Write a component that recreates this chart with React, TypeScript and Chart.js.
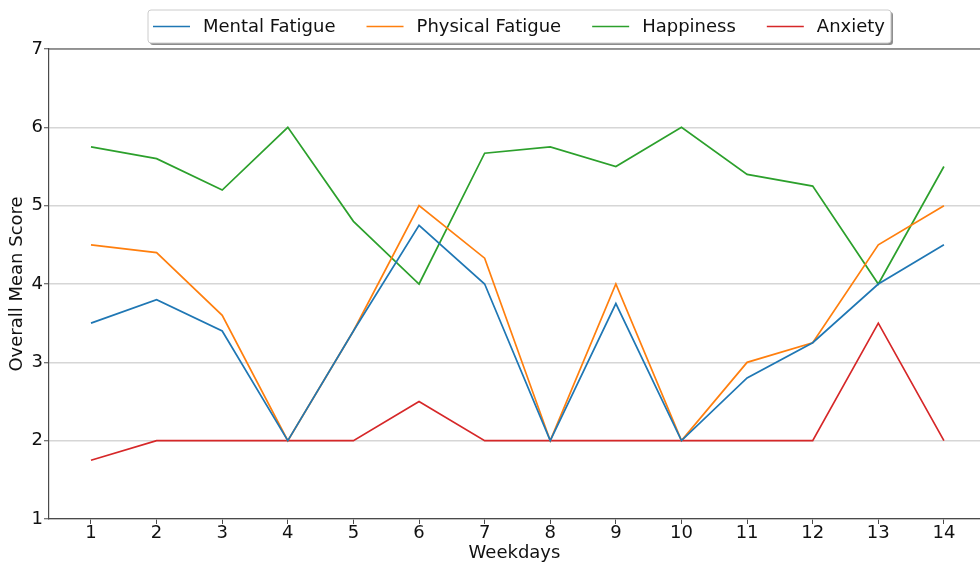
import { useEffect, useRef } from "react";
import { Chart, registerables } from "chart.js";

Chart.register(...registerables);

const FONT = "'DejaVu Sans', 'Liberation Sans', sans-serif";

// Days of the two-week period
const days = [1, 2, 3, 4, 5, 6, 7, 8, 9, 10, 11, 12, 13, 14];

// Overall mean scores per day
const mentalFatigue = [3.5, 3.8, 3.4, 2.0, 3.4, 4.75, 4.0, 2.0, 3.75, 2.0, 2.8, 3.25, 4.0, 4.5];
const physicalFatigue = [4.5, 4.4, 3.6, 2.0, 3.4, 5.0, 4.33, 2.0, 4.0, 2.0, 3.0, 3.25, 4.5, 5.0];
const happiness = [5.75, 5.6, 5.2, 6.0, 4.8, 4.0, 5.67, 5.75, 5.5, 6.0, 5.4, 5.25, 4.0, 5.5];
const anxiety = [1.75, 2.0, 2.0, 2.0, 2.0, 2.5, 2.0, 2.0, 2.0, 2.0, 2.0, 2.0, 3.5, 2.0];

const seriesNames = ["Mental Fatigue", "Physical Fatigue", "Happiness", "Anxiety"];
const seriesColors = ["#1f77b4", "#ff7f0e", "#2ca02c", "#d62728"];

const yTicks = [1, 2, 3, 4, 5, 6, 7];

const SPINE = "#4a4a4a";
const FONT_SIZE = 18;

function roundRect(ctx: CanvasRenderingContext2D, x: number, y: number, w: number, h: number, r: number) {
  ctx.beginPath();
  ctx.moveTo(x + r, y);
  ctx.lineTo(x + w - r, y);
  ctx.quadraticCurveTo(x + w, y, x + w, y + r);
  ctx.lineTo(x + w, y + h - r);
  ctx.quadraticCurveTo(x + w, y + h, x + w - r, y + h);
  ctx.lineTo(x + r, y + h);
  ctx.quadraticCurveTo(x, y + h, x, y + h - r);
  ctx.lineTo(x, y + r);
  ctx.quadraticCurveTo(x, y, x + r, y);
  ctx.closePath();
}

// Top spine of the axes box
const topSpine = {
  id: "topSpine",
  afterDraw(chart: any) {
    const { ctx, chartArea } = chart;
    ctx.save();
    ctx.strokeStyle = SPINE;
    ctx.lineWidth = 1.2;
    ctx.beginPath();
    ctx.moveTo(chartArea.left, chartArea.top);
    ctx.lineTo(chartArea.right, chartArea.top);
    ctx.stroke();
    ctx.restore();
  },
};

// Framed legend above the axes with a drop shadow
const boxLegend = {
  id: "boxLegend",
  afterDraw(chart: any) {
    const ctx: CanvasRenderingContext2D = chart.ctx;
    const datasets = chart.data.datasets;
    ctx.save();
    ctx.font = `${FONT_SIZE}px ${FONT}`;
    const handle = 37;
    const handleGap = 13;
    const itemGap = 31;
    const padL = 5;
    const padR = 6;
    let total = padL;
    datasets.forEach((ds: any, i: number) => {
      total += handle + handleGap + ctx.measureText(ds.label).width;
      if (i < datasets.length - 1) total += itemGap;
    });
    total += padR;
    const cx = 519;
    const x0 = Math.round(cx - total / 2);
    const y0 = 10;
    const h = 33;

    ctx.fillStyle = "rgba(0,0,0,0.45)";
    roundRect(ctx, x0 + 2, y0 + 2, total, h, 3);
    ctx.fill();
    ctx.fillStyle = "#ffffff";
    roundRect(ctx, x0, y0, total, h, 3);
    ctx.fill();
    ctx.strokeStyle = "#cccccc";
    ctx.lineWidth = 1;
    ctx.stroke();

    const cy = y0 + h / 2;
    let x = x0 + padL;
    ctx.textBaseline = "middle";
    ctx.textAlign = "left";
    datasets.forEach((ds: any) => {
      ctx.strokeStyle = ds.borderColor;
      ctx.lineWidth = 1.6;
      ctx.beginPath();
      ctx.moveTo(x, cy);
      ctx.lineTo(x + handle, cy);
      ctx.stroke();
      ctx.fillStyle = "#111111";
      ctx.fillText(ds.label, x + handle + handleGap, cy + 1);
      x += handle + handleGap + ctx.measureText(ds.label).width + itemGap;
    });
    ctx.restore();
  },
};

export default function App() {
  const canvasRef = useRef<HTMLCanvasElement | null>(null);

  useEffect(() => {
    const canvas = canvasRef.current;
    if (!canvas) return;
    const series = [mentalFatigue, physicalFatigue, happiness, anxiety];
    const chart = new Chart(canvas, {
      type: "line",
      data: {
        datasets: series.map((values, i) => ({
          label: seriesNames[i],
          data: days.map((d, j) => ({ x: d, y: values[j] })),
          borderColor: seriesColors[i],
          backgroundColor: seriesColors[i],
          borderWidth: 1.7,
          pointRadius: 0,
          pointHoverRadius: 0,
          tension: 0,
          fill: false,
        })),
      },
      options: {
        responsive: false,
        animation: false,
        events: [],
        layout: { padding: { top: 49, left: 0, right: 0, bottom: 0 } },
        plugins: {
          legend: { display: false },
          tooltip: { enabled: false },
        },
        scales: {
          x: {
            type: "linear",
            min: 0.36,
            max: 14.55,
            afterFit: (scale: any) => {
              scale.height = 45;
            },
            afterBuildTicks: (scale: any) => {
              scale.ticks = days.map((d) => ({ value: d }));
            },
            grid: {
              drawOnChartArea: false,
              drawTicks: true,
              tickLength: 5,
              tickColor: SPINE,
              tickWidth: 1,
            },
            border: { color: SPINE, width: 1.2 },
            ticks: {
              color: "#111111",
              font: { family: FONT, size: FONT_SIZE },
              padding: -1,
              maxRotation: 0,
              autoSkip: false,
              callback: (v: any) => String(v),
            },
            title: {
              display: true,
              text: "Weekdays",
              color: "#111111",
              font: { family: FONT, size: FONT_SIZE },
              padding: { top: 0, bottom: 0 },
            },
          },
          y: {
            min: 1,
            max: 7,
            afterFit: (scale: any) => {
              scale.width = 49;
            },
            afterBuildTicks: (scale: any) => {
              scale.ticks = yTicks.map((v) => ({ value: v }));
            },
            grid: {
              color: "#d6d6d6",
              lineWidth: 1.5,
              drawTicks: true,
              tickLength: 5,
              tickColor: SPINE,
              tickWidth: 1,
            },
            border: { color: SPINE, width: 1.2 },
            ticks: {
              color: "#111111",
              font: { family: FONT, size: FONT_SIZE },
              padding: 1,
              callback: (v: any) => String(v),
            },
            title: {
              display: true,
              text: "Overall Mean Score",
              color: "#111111",
              font: { family: FONT, size: FONT_SIZE },
              padding: { top: 7, bottom: 0 },
            },
          },
        },
      },
      plugins: [topSpine, boxLegend],
    });
    return () => chart.destroy();
  }, []);

  return (
    <div style={{ position: "fixed", left: 0, top: 0, width: 980, height: 564, background: "#ffffff" }}>
      <canvas ref={canvasRef} width={980} height={564} style={{ display: "block" }} />
    </div>
  );
}
